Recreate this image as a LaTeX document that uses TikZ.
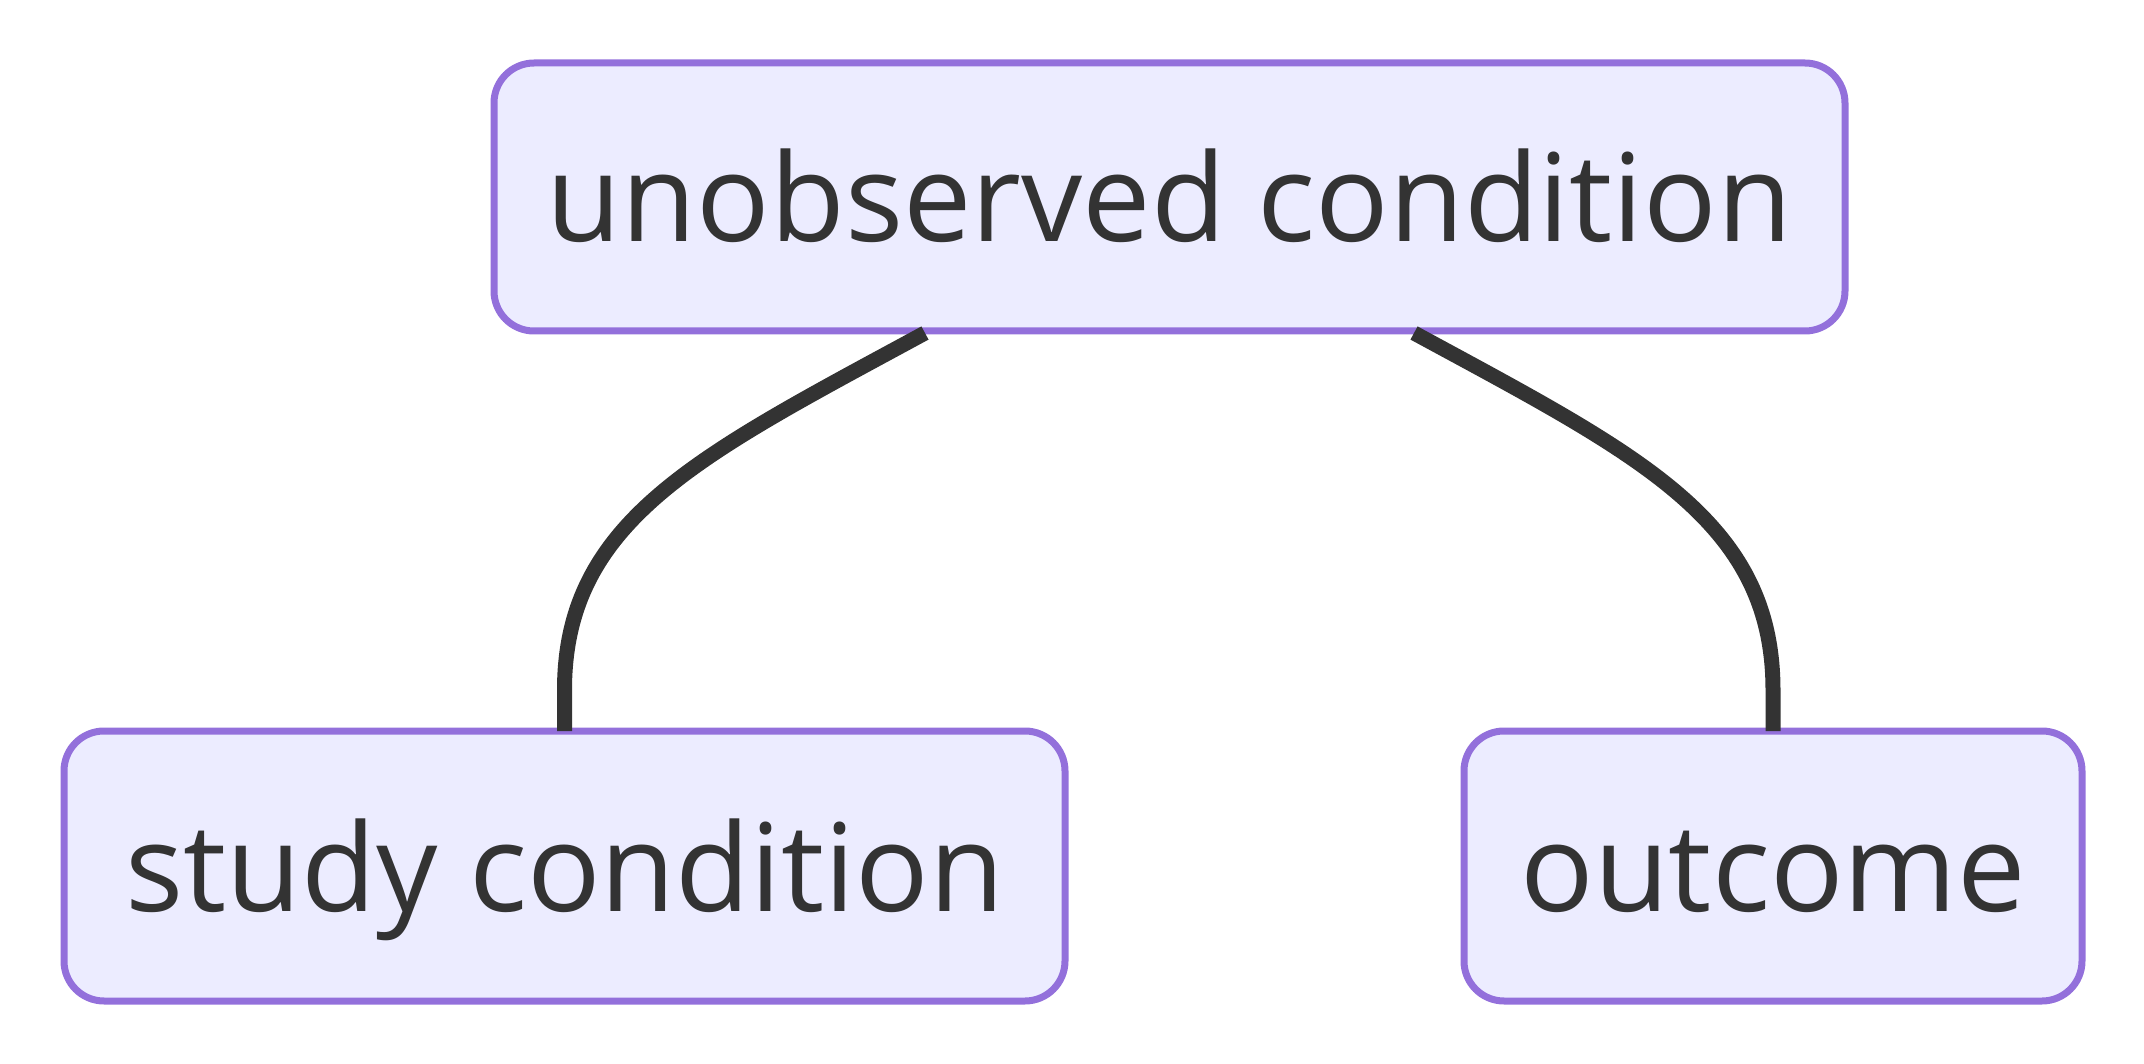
\documentclass[tikz,border=0pt]{standalone}
\usepackage{fontspec}
\setmainfont{Open Sans}
\usetikzlibrary{calc}
\definecolor{boxfill}{HTML}{ECECFF}
\definecolor{boxdraw}{HTML}{9370DB}
\definecolor{ink}{HTML}{333333}
\begin{document}
\begin{tikzpicture}[x=0.5pt,y=-0.5pt,
  box/.style={draw=boxdraw, fill=boxfill, line width=3.5pt, rounded corners=20pt,
    text=ink, font=\fontsize{61}{72}\selectfont, inner sep=0pt, outer sep=0pt,
    text height=50pt, text depth=5pt},
  link/.style={draw=ink, line width=7.5pt}]
\useasboundingbox (0,0) rectangle (2144,1064);
\node[box, minimum width=675.5pt, minimum height=134pt] (a) at (1169.5,197) {unobserved condition};
\node[box, minimum width=500.5pt, minimum height=135pt] (b) at (564.5,866) {study condition};
\node[box, minimum width=309pt, minimum height=135pt] (c) at (1773,866) {outcome};
\coordinate (as) at ($(a.south west)!0.319!(a.south east)+(0,2)$);
\coordinate (bs) at ($(a.south west)!0.681!(a.south east)+(0,2)$);
\draw[link] (as) .. controls (700,455) and (564.5,520) .. (564.5,690) -- (b.north);
\draw[link] (bs) .. controls (1639,455) and (1773,520) .. (1773,690) -- (c.north);
\end{tikzpicture}
\end{document}
